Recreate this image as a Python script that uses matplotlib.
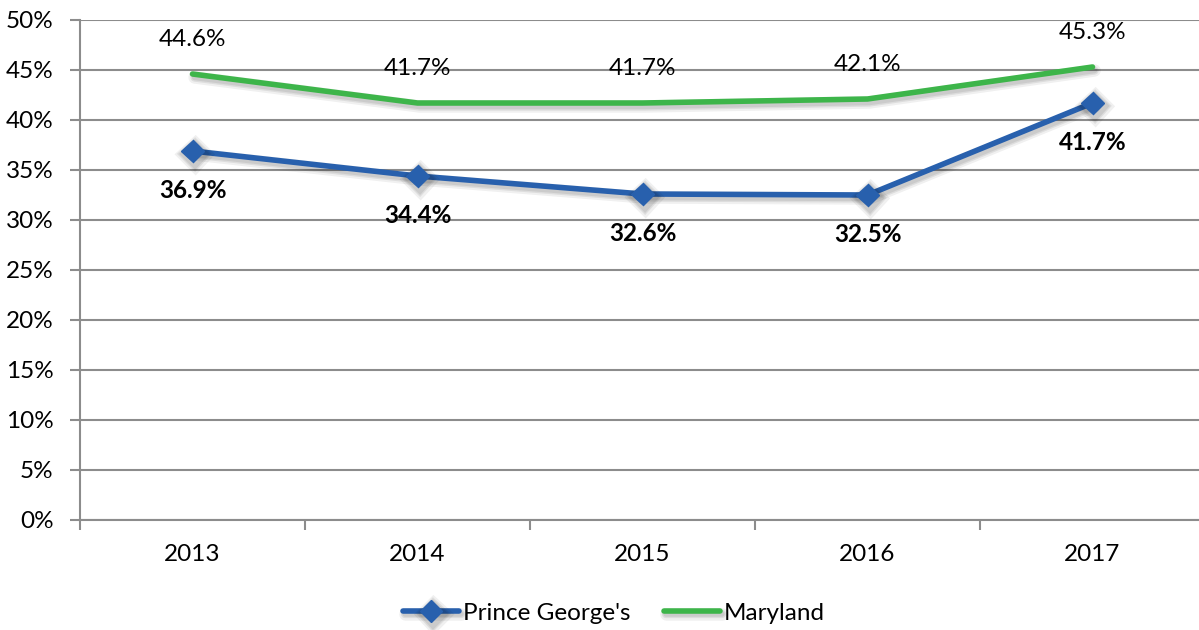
import matplotlib
matplotlib.use("Agg")
import matplotlib.pyplot as plt
import matplotlib.patheffects as pe
from matplotlib.ticker import FixedLocator

years = ["2013", "2014", "2015", "2016", "2017"]
pg = [36.9, 34.4, 32.6, 32.5, 41.7]
md = [44.6, 41.7, 41.7, 42.1, 45.3]
yticks = [0, 5, 10, 15, 20, 25, 30, 35, 40, 45, 50]

plt.rcParams['font.family'] = ['Lato', 'DejaVu Sans']

W, H = 1199, 630
fig = plt.figure(figsize=(W/100, H/100), dpi=100)
ax = fig.add_axes([80/W, 1-520/H, 1125/W, 500/H])

grid_c = '#8c8c8c'
blue = '#2860ad'
green = '#3db54a'

x = list(range(len(years)))
shadow = [pe.SimpleLineShadow(offset=(1.5, -2.5), shadow_color='black', alpha=0.06, linewidth=9),
          pe.SimpleLineShadow(offset=(1.5, -2.5), shadow_color='black', alpha=0.08, linewidth=6),
          pe.SimpleLineShadow(offset=(1.5, -2.5), shadow_color='black', alpha=0.08, linewidth=4),
          pe.Normal()]

ax.plot(x, md, color=green, lw=4, solid_capstyle='round', path_effects=shadow, label='Maryland', zorder=3)
ax.plot(x, pg, color=blue, lw=4, marker='D', markersize=11.5, solid_capstyle='round',
        path_effects=shadow, label="Prince George's", zorder=4)

fs = 17.5
for xi, v in zip(x, md):
    ax.annotate(f"{v:.1f}%", (xi, v), xytext=(0, 25), textcoords='offset points',
                ha='center', va='center', fontsize=fs, color='black')
for xi, v in zip(x, pg):
    ax.annotate(f"{v:.1f}%", (xi, v), xytext=(0, -28.5), textcoords='offset points',
                ha='center', va='center', fontsize=fs, fontweight='bold', color='black')

ax.set_xlim(-0.5, 4.5)
ax.set_ylim(0, 50)
ax.set_yticks(yticks)
ax.set_yticklabels([f"{t}%" for t in yticks])
ax.set_xticks(x)
ax.set_xticklabels(years)
ax.xaxis.set_minor_locator(FixedLocator([i - 0.5 for i in range(len(years) + 1)]))
ax.tick_params(axis='x', which='major', length=0, pad=17, labelsize=fs)
ax.tick_params(axis='x', which='minor', length=7, width=1.5, color=grid_c)
ax.tick_params(axis='y', length=7, width=1.5, color=grid_c, labelsize=fs, pad=12)

ax.grid(axis='y', color=grid_c, lw=1.5)
ax.set_axisbelow(True)
for s in ['top', 'right']:
    ax.spines[s].set_visible(False)
for s in ['left', 'bottom']:
    ax.spines[s].set_color(grid_c)
    ax.spines[s].set_linewidth(1.5)

handles, labels = ax.get_legend_handles_labels()
leg = fig.legend(handles[::-1], labels[::-1], loc='center', bbox_to_anchor=(614/W, 1-613/H),
                 ncol=2, frameon=False, fontsize=fs, handlelength=2.3, columnspacing=1.4,
                 handletextpad=0.15)

fig.savefig('out.png', dpi=100)
